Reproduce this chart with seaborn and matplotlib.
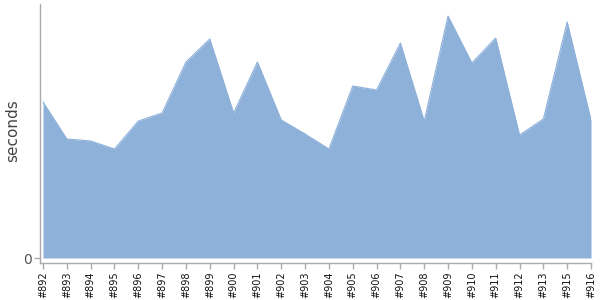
import matplotlib
matplotlib.use("Agg")
import matplotlib.pyplot as plt
import seaborn as sns
import pandas as pd
import numpy as np

builds = ["#892", "#893", "#894", "#895", "#896", "#897", "#898", "#899", "#900",
          "#901", "#902", "#903", "#904", "#905", "#906", "#907", "#908", "#909",
          "#910", "#911", "#912", "#913", "#915", "#916"]
seconds = [15.6, 11.9, 11.7, 10.9, 13.7, 14.5, 19.6, 21.9, 14.5, 19.6, 13.8, 12.4,
           10.9, 17.2, 16.8, 21.5, 13.7, 24.2, 19.5, 22.0, 12.3, 13.9, 23.6, 13.8]

df = pd.DataFrame({"build": builds, "seconds": seconds})
df["pos"] = np.arange(len(df))

sns.set_theme(style="white")
fig = plt.figure(figsize=(6, 3), dpi=100)
ax = fig.add_axes([40/600, 1 - 263/300, 551/600, 259/300])

color = "#8EB1DA"
sns.lineplot(data=df, x="pos", y="seconds", ax=ax, color=color, linewidth=0.8)
ax.fill_between(df["pos"], 0, df["seconds"], color=color, linewidth=0)

ax.set_xlim(-0.126, len(df) - 1)
ax.set_ylim(-0.5, 25.4)
ax.set_xticks(df["pos"])
ax.set_xticklabels(df["build"], rotation=90, fontsize=7, color="#111111")
ax.set_yticks([0])
ax.set_yticklabels(["0"], fontsize=10, color="#555555")
ax.set_xlabel("")
ax.set_ylabel("seconds", fontsize=11, color="#444444", va="center")
ax.yaxis.set_label_coords(-0.049, 0.51)

for side in ["top", "right"]:
    ax.spines[side].set_visible(False)
for side in ["left", "bottom"]:
    ax.spines[side].set_color("#aaaaaa")
    ax.spines[side].set_linewidth(1)
ax.tick_params(axis="both", which="both", length=4, width=1, color="#aaaaaa",
               bottom=True, left=True, pad=2)

fig.savefig("out.png", dpi=100)
